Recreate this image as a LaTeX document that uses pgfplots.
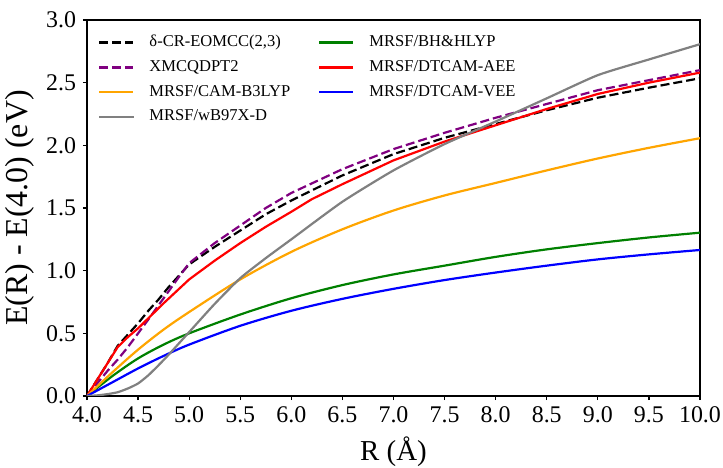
\documentclass[border=0pt]{standalone}
\usepackage{pgfplots}
\pgfplotsset{compat=1.18}
\usepackage{fontspec}
\setmainfont{Liberation Serif}
\definecolor{mpurple}{RGB}{128,0,128}
\definecolor{morange}{RGB}{255,165,0}
\definecolor{mgray}{RGB}{128,128,128}
\definecolor{mgreen}{RGB}{0,128,0}
\definecolor{mred}{RGB}{255,0,0}
\definecolor{mblue}{RGB}{0,0,255}
\begin{document}
\begin{tikzpicture}
\begin{axis}[
  at={(0,0)}, anchor=south west,
  scale only axis, width=306.5bp, height=188bp,
  xmin=4, xmax=10, ymin=0, ymax=3,
  xtick={4,4.5,...,10}, ytick={0,0.5,...,3},
  xticklabel style={/pgf/number format/.cd,fixed,fixed zerofill,precision=1},
  yticklabel style={/pgf/number format/.cd,fixed,fixed zerofill,precision=1},
  /pgf/number format/assume math mode=true,
  tick label style={font=\fontsize{12}{14}\selectfont},
  xlabel style={font=\fontsize{14.5}{16}\selectfont},
  ylabel style={font=\fontsize{16}{18}\selectfont, yshift=-1bp},
  xlabel={R (Å)}, ylabel={E(R) - E(4.0) (eV)},
  tick align=outside, xtick pos=bottom, ytick pos=left,
  major tick length=2bp,
  axis line style={line width=0.6bp},
  every tick/.style={black, line width=0.6bp},
  legend columns=2,
  legend cell align=left,
  legend style={draw=none, fill=none, at={(0.008,0.982)}, anchor=north west,
    font=\fontsize{8.3}{9.5}\selectfont, row sep=1.4bp,
    /tikz/every odd column/.append style={column sep=5.5bp},
    /tikz/every even column/.append style={column sep=12bp}},
  every axis plot/.append style={line width=1.1bp},
]
\addplot[black, dash pattern=on 4.5bp off 2bp] coordinates {
(4.0,0) (4.1,0.13) (4.2,0.26) (4.3,0.40) (4.4,0.49) (4.5,0.58) (4.6,0.68) (4.7,0.77) (4.8,0.87) (4.9,0.96) (5.0,1.05)
(5.25,1.19) (5.5,1.32) (5.75,1.45) (6.0,1.56) (6.5,1.76) (7.0,1.93) (7.5,2.06) (8.0,2.17) (8.5,2.28) (9.0,2.38) (9.5,2.46) (10.0,2.535)};
\addlegendentry{δ-CR-EOMCC(2,3)}
\addplot[mgreen, smooth, tension=0.5] coordinates {
(4.0,0) (4.25,0.16) (4.5,0.30) (4.75,0.41) (5.0,0.50) (5.5,0.65) (6.0,0.78) (6.5,0.885) (7.0,0.97) (7.5,1.04) (8.0,1.11) (8.5,1.17) (9.0,1.22) (9.5,1.265) (10.0,1.303)};
\addlegendentry{MRSF/BH\&HLYP}
\addplot[mpurple, dash pattern=on 4.5bp off 2bp] coordinates {
(4.0,0) (4.1,0.10) (4.2,0.20) (4.3,0.29) (4.4,0.39) (4.5,0.50) (4.6,0.61) (4.75,0.78) (4.9,0.95) (5.0,1.06)
(5.25,1.22) (5.5,1.36) (5.75,1.50) (6.0,1.62) (6.5,1.81) (7.0,1.97) (7.5,2.10) (8.0,2.22) (8.5,2.33) (9.0,2.44) (9.5,2.52) (10.0,2.60)};
\addlegendentry{XMCQDPT2}
\addplot[mred] coordinates {
(4.0,0) (4.1,0.13) (4.2,0.26) (4.3,0.39) (4.4,0.47) (4.5,0.54) (4.75,0.74) (5.0,0.93) (5.25,1.08) (5.5,1.22) (5.75,1.35) (6.0,1.47) (6.2,1.57)
(6.5,1.69) (7.0,1.88) (7.5,2.03) (8.0,2.16) (8.5,2.29) (9.0,2.41) (9.5,2.50) (10.0,2.58)};
\addlegendentry{MRSF/DTCAM-AEE}
\addplot[morange, smooth, tension=0.5] coordinates {
(4.0,0) (4.25,0.19) (4.5,0.37) (4.75,0.53) (5.0,0.67) (5.5,0.93) (6.0,1.15) (6.5,1.33) (7.0,1.48) (7.5,1.60) (8.0,1.70) (8.5,1.80) (9.0,1.895) (9.5,1.98) (10.0,2.057)};
\addlegendentry{MRSF/CAM-B3LYP}
\addplot[mblue, smooth, tension=0.5] coordinates {
(4.0,0) (4.25,0.11) (4.5,0.22) (4.75,0.32) (5.0,0.41) (5.5,0.56) (6.0,0.68) (6.5,0.775) (7.0,0.855) (7.5,0.925) (8.0,0.985) (8.5,1.04) (9.0,1.09) (9.5,1.13) (10.0,1.165)};
\addlegendentry{MRSF/DTCAM-VEE}
\addplot[mgray, smooth, tension=0.35] coordinates {
(4.0,0) (4.1,0.005) (4.2,0.015) (4.3,0.03) (4.4,0.06) (4.5,0.10) (4.6,0.165) (4.7,0.245) (4.8,0.33) (4.9,0.42) (5.0,0.51) (5.25,0.735) (5.5,0.94) (5.75,1.10) (6.0,1.25)
(6.5,1.55) (7.0,1.80) (7.5,2.01) (8.0,2.19) (8.5,2.375) (9.0,2.56) (9.5,2.685) (10.0,2.807)};
\addlegendentry{MRSF/wB97X-D}
\end{axis}
\pgfresetboundingbox
\path[use as bounding box] (-43.5bp,-36bp) rectangle (318bp,198bp);
\end{tikzpicture}
\end{document}
